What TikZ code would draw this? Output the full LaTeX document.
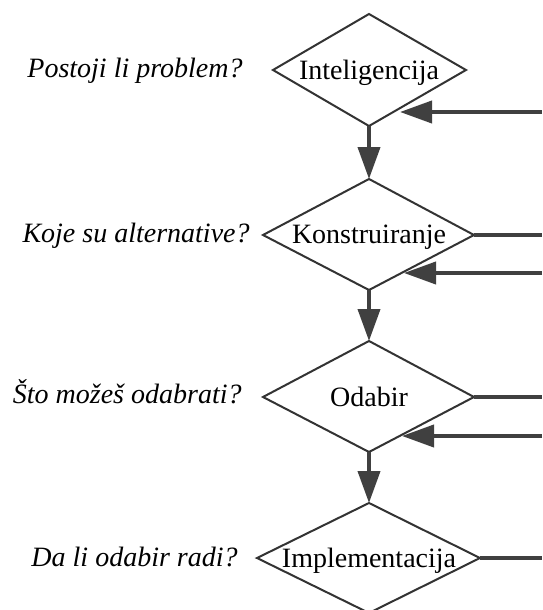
\documentclass[tikz,border=0pt]{standalone}
\usepackage{fontspec}
\setmainfont{Liberation Serif}
\usetikzlibrary{arrows.meta}
\begin{document}
\begin{tikzpicture}[x=0.5pt,y=-0.5pt,
  dia/.style={draw=black!80, line width=1pt, line join=miter, fill=white},
  conn/.style={draw=black!75, line width=2pt, -{Triangle[length=16pt,width=11pt]}},
  link/.style={draw=black!75, line width=2pt},
  quest/.style={font=\fontsize{14}{16}\selectfont\itshape, anchor=base east, inner sep=0pt},
  lab/.style={font=\fontsize{14}{16}\selectfont, anchor=base, inner sep=0pt}]
\useasboundingbox (0,0) rectangle (542,610);
% diamond corners
\coordinate (d1t) at (369,14);  \coordinate (d1l) at (273,70);  \coordinate (d1r) at (466,70);  \coordinate (d1b) at (369,126);
\coordinate (d2t) at (369,179); \coordinate (d2l) at (263,235); \coordinate (d2r) at (474,235); \coordinate (d2b) at (369,290);
\coordinate (d3t) at (369,341); \coordinate (d3l) at (263,397); \coordinate (d3r) at (474,397); \coordinate (d3b) at (369,452);
\coordinate (d4t) at (369,503); \coordinate (d4l) at (257,558); \coordinate (d4r) at (480,558); \coordinate (d4b) at (369,613);
% diamonds
\draw[dia] (d1t) -- (d1r) -- (d1b) -- (d1l) -- cycle;
\draw[dia] (d2t) -- (d2r) -- (d2b) -- (d2l) -- cycle;
\draw[dia] (d3t) -- (d3r) -- (d3b) -- (d3l) -- cycle;
\draw[dia] (d4t) -- (d4r) -- (d4b) -- (d4l) -- cycle;
% texts inside
\node[lab] (n1) at (369,80) {Inteligencija};
\node[lab] (n2) at (369,243) {Konstruiranje};
\node[lab] (n3) at (369,406) {Odabir};
\node[lab] (n4) at (369,567) {Implementacija};
% questions
\node[quest] (q1) at (243,78) {Postoji li problem?};
\node[quest] (q2) at (250,242) {Koje su alternative?};
\node[quest] (q3) at (242,403) {Što možeš odabrati?};
\node[quest] (q4) at (238,566) {Da li odabir radi?};
% vertical flow
\draw[conn] (d1b) -- (d2t);
\draw[conn] (d2b) -- (d3t);
\draw[conn] (d3b) -- (d4t);
% right side lines
\coordinate (e1) at (542,112); \coordinate (h1) at (400,112);
\coordinate (o2) at (542,235);
\coordinate (e2) at (542,273); \coordinate (h2) at (404,273);
\coordinate (o3) at (542,397);
\coordinate (e3) at (542,436); \coordinate (h3) at (402,436);
\coordinate (o4) at (542,558);
\draw[conn] (e1) -- (h1);
\draw[link] (d2r) -- (o2);
\draw[conn] (e2) -- (h2);
\draw[link] (d3r) -- (o3);
\draw[conn] (e3) -- (h3);
\draw[link] (d4r) -- (o4);
\end{tikzpicture}
\end{document}
